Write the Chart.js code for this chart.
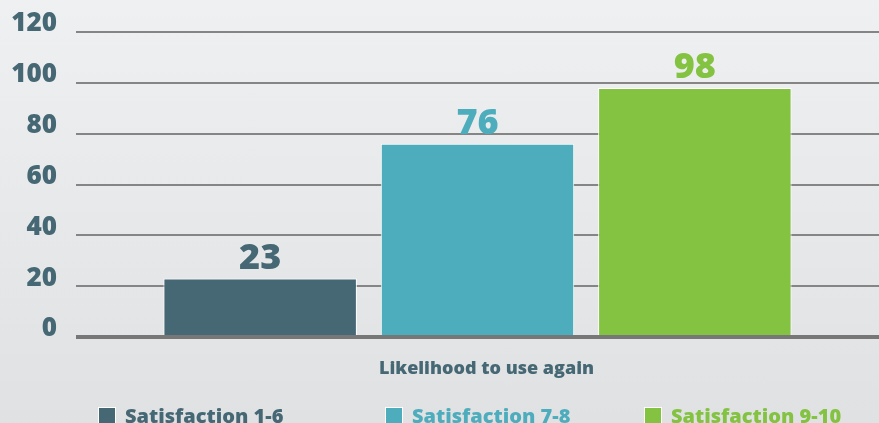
<!DOCTYPE html>
<html>
<head>
<meta charset="utf-8">
<script src="https://cdn.jsdelivr.net/npm/chart.js@4.4.1/dist/chart.umd.min.js"></script>
<style>
  html, body { margin: 0; padding: 0; overflow: hidden; }
  body {
    width: 879px; height: 423px;
    background: linear-gradient(to bottom, #eff0f1 0%, #e0e1e3 100%);
  }
  #wrap { position: relative; width: 879px; height: 423px; }
</style>
</head>
<body>
<div id="wrap"><canvas id="chart"></canvas></div>
<script>
// Single category, three satisfaction groups
const categories = ['Likelihood to use again'];
const seriesNames = ['Satisfaction 1-6', 'Satisfaction 7-8', 'Satisfaction 9-10'];
const seriesValues = [23, 76, 98];
const seriesColors = ['#456874', '#4eadbd', '#83c341'];
const yTicks = [0, 20, 40, 60, 80, 100, 120];

const FONT = '"Open Sans", "DejaVu Sans", sans-serif';
const TEXT = '#456874';

// Value labels above each bar
const valueLabels = {
  id: 'valueLabels',
  afterDatasetsDraw(chart) {
    const ctx = chart.ctx;
    ctx.save();
    ctx.font = `800 36px ${FONT}`;
    ctx.textAlign = 'center';
    ctx.textBaseline = 'bottom';
    chart.data.datasets.forEach((ds, i) => {
      const meta = chart.getDatasetMeta(i);
      meta.data.forEach((bar, j) => {
        ctx.fillStyle = ds.backgroundColor;
        ctx.fillText(String(ds.data[j]), bar.x, bar.y - 2);
      });
    });
    ctx.restore();
  }
};

// Legend row along the bottom edge, one swatch + name per series
const legendX = [98, 385, 644];
const bottomLegend = {
  id: 'bottomLegend',
  afterDraw(chart) {
    const ctx = chart.ctx;
    const box = 18, gapText = 9;
    const midY = 416;
    ctx.save();
    ctx.font = `800 20px ${FONT}`;
    ctx.textBaseline = 'middle';
    ctx.textAlign = 'left';
    chart.data.datasets.forEach((ds, i) => {
      const x = legendX[i];
      ctx.fillStyle = ds.backgroundColor;
      ctx.fillRect(x, midY - box / 2, box, box);
      ctx.strokeStyle = '#ffffff';
      ctx.lineWidth = 1;
      ctx.strokeRect(x + 0.5, midY - box / 2 + 0.5, box - 1, box - 1);
      ctx.fillText(ds.label, x + box + gapText, midY + 1);
    });
    ctx.restore();
  }
};

const datasets = seriesNames.map((name, i) => ({
  label: name,
  data: [seriesValues[i]],
  backgroundColor: seriesColors[i],
  borderColor: '#ffffff',
  borderWidth: 1,
  borderSkipped: 'bottom',
  barPercentage: 0.89,
  categoryPercentage: 0.812
}));

new Chart(document.getElementById('chart'), {
  type: 'bar',
  data: { labels: categories, datasets },
  plugins: [valueLabels, bottomLegend],
  options: {
    responsive: true,
    maintainAspectRatio: false,
    animation: false,
    layout: { padding: { left: 10, right: 0, top: 32, bottom: 40 } },
    plugins: {
      tooltip: { enabled: false },
      legend: { display: false }
    },
    scales: {
      x: {
        afterFit(scale) { scale.height = 46; },
        grid: { display: false, drawTicks: false },
        border: { display: false },
        ticks: {
          color: TEXT,
          padding: 21,
          labelOffset: 9,
          font: { family: FONT, size: 18, weight: 800 }
        }
      },
      y: {
        min: 0,
        max: 120,
        afterFit(scale) {
          scale.width = 66;
          scale.paddingTop = 0;
          scale.paddingBottom = 0;
        },
        afterBuildTicks(axis) { axis.ticks = yTicks.map(v => ({ value: v })); },
        border: { display: false },
        grid: {
          drawTicks: false,
          color: ctx => ctx.index === 0 ? '#777777' : '#858585',
          lineWidth: ctx => ctx.index === 0 ? 4 : 2
        },
        ticks: {
          color: TEXT,
          padding: 19,
          labelOffset: -8,
          font: { family: FONT, size: 26, weight: 800 }
        }
      }
    }
  }
});
</script>
</body>
</html>
